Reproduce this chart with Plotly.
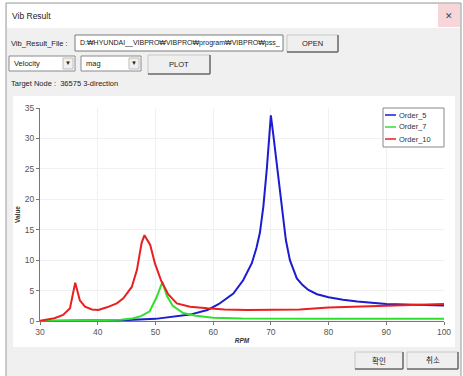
import plotly.graph_objects as go

# ---------------- data ----------------
rpm_o5 = [30, 35, 40, 45, 50, 53, 56, 59, 61, 63.5, 65.2, 66.7, 67.5, 68.1, 68.7, 69.3,
          69.7, 70.0, 70.4, 71.3, 71.9, 72.6, 73.3, 74.5, 75.5, 76.5, 78, 80, 82.5, 85,
          90, 95, 100]
val_o5 = [0.0, 0.05, 0.1, 0.15, 0.35, 0.7, 1.05, 1.8, 2.8, 4.5, 6.7, 9.5, 12.0, 14.5, 18.8, 25.0,
          31.0, 33.8, 30.8, 23.7, 18.2, 13.3, 10.0, 7.0, 5.9, 5.1, 4.4, 3.9, 3.5, 3.2,
          2.8, 2.65, 2.55]

rpm_o7 = [30, 35, 40, 44, 46, 47.5, 49, 50.2, 51.2, 52, 53, 54.8, 57, 60, 65, 70, 80, 90, 100]
val_o7 = [0.0, 0.05, 0.1, 0.2, 0.4, 0.8, 1.6, 3.9, 6.4, 4.1, 2.5, 1.3, 0.85, 0.55, 0.42, 0.38,
          0.37, 0.37, 0.37]

rpm_o10 = [30, 32.5, 34, 35.2, 36.1, 36.9, 37.8, 39, 40.1, 41.6, 43.3, 44.4, 45.9, 46.8, 47.6,
           48.1, 49.1, 49.9, 51, 52.2, 53.7, 56, 59, 62, 66, 70, 75, 80, 85, 90, 95, 100]
val_o10 = [0.05, 0.45, 1.0, 2.1, 6.3, 3.4, 2.35, 1.9, 1.8, 2.25, 2.9, 3.7, 5.6, 8.4, 12.8,
           14.1, 12.5, 9.5, 6.6, 4.4, 2.9, 2.35, 2.08, 1.9, 1.8, 1.8, 1.9, 2.2, 2.35, 2.5, 2.65, 2.8]

series_names = ["Order_5", "Order_7", "Order_10"]
series_colors = ["#1c1cd0", "#2fe02f", "#e82020"]

x_ticks = [30, 40, 50, 60, 70, 80, 90, 100]
y_ticks = [0, 5, 10, 15, 20, 25, 30, 35]

# ---------------- layout geometry ----------------
W, H = 463, 376
ML, MR, MT, MB = 40, 19, 108, 55
PW, PH = W - ML - MR, H - MT - MB


def px(x):
    return (x - ML) / PW


def py(y):
    return (H - MB - y) / PH


UI_FONT = "Liberation Sans, Noto Sans CJK KR, sans-serif"

fig = go.Figure()
for xs, ys, name, col in zip([rpm_o5, rpm_o7, rpm_o10], [val_o5, val_o7, val_o10],
                             series_names, series_colors):
    fig.add_trace(go.Scatter(x=xs, y=ys, mode="lines", name=name, showlegend=False,
                             line=dict(color=col, width=2)))

shapes = []
annotations = []


def rect(x0, y0, x1, y1, fill, line=None, lw=1, layer="below"):
    shapes.append(dict(type="rect", xref="paper", yref="paper",
                       x0=px(x0), x1=px(x1), y0=py(y1), y1=py(y0),
                       fillcolor=fill, layer=layer,
                       line=dict(color=line or fill, width=lw if line else 0)))


def hline(x0, x1, y, color, lw=1, layer="below"):
    shapes.append(dict(type="line", xref="paper", yref="paper",
                       x0=px(x0), x1=px(x1), y0=py(y), y1=py(y), layer=layer,
                       line=dict(color=color, width=lw)))


def vline(x, y0, y1, color, lw=1):
    shapes.append(dict(type="line", xref="paper", yref="paper",
                       x0=px(x), x1=px(x), y0=py(y0), y1=py(y1), layer="below",
                       line=dict(color=color, width=lw)))


def text(x, y, s, size=8, color="#222", xanchor="left", family=UI_FONT):
    annotations.append(dict(xref="paper", yref="paper", x=px(x), y=py(y), text=s,
                            showarrow=False, xanchor=xanchor, yanchor="middle",
                            font=dict(size=size, color=color, family=family)))


def button(x0, y0, x1, y1, label):
    rect(x0, y0, x1, y1, "#efefef", "#c8c8c8")
    hline(x0, x1, y1, "#6e6e6e", 1.5)
    vline(x1, y0, y1, "#6e6e6e", 1.5)
    text((x0 + x1) / 2, (y0 + y1) / 2, label, size=7.5, xanchor="center")


def combo(x0, y0, x1, y1, label):
    rect(x0, y0, x1, y1, "#ffffff", "#8a8a8a")
    rect(x1 - 12, y0 + 2, x1 - 2, y1 - 2, "#f0f0f0", "#bdbdbd")
    text(x1 - 7, (y0 + y1) / 2, "▼", size=6, xanchor="center")
    text(x0 + 3, (y0 + y1) / 2, label, size=7.5)


# window
rect(6, 3, 461, 380, "#f0f0f0", "#9a9a9a")
rect(7, 4, 460, 28, "#ffffff")
rect(438, 4, 460, 27, "#f7d6da")
text(10, 16, "Vib Result", size=8.5)
text(449, 16, "✕", size=9, xanchor="center", color="#444")

# row 1
text(9, 43, "Vib_Result_File :", size=7.5)
rect(75, 35, 283, 51, "#ffffff", "#7a7a7a")
text(78, 43, "D:₩HYUNDAI__VIBPRO₩VIBPRO₩program₩VIBPRO₩pss_", size=7)
button(287, 35, 338, 52, "OPEN")

# row 2
combo(9, 56, 75, 71, "Velocity")
combo(81, 56, 141, 71, "mag")
button(148, 55, 210, 74, "PLOT")

text(9, 84, "Target Node :  36575 3-direction", size=7.5)

# chart panel
rect(13, 96, 455, 347, "#ffffff")

# legend (drawn on top of the plot)
rect(383, 108, 444, 147, "#ffffff", "#888888", layer="above")
for i, (name, col) in enumerate(zip(series_names, series_colors)):
    yy = 115 + 12 * i
    hline(385, 396, yy, col, 1.5, layer="above")
    text(397, yy, name, size=7.5, color="#333")

# bottom buttons
button(355, 352, 403, 369, "확인")
button(407, 352, 458, 369, "취소")

fig.update_layout(
    width=W, height=H,
    margin=dict(l=ML, r=MR, t=MT, b=MB, pad=0),
    paper_bgcolor="#ffffff",
    plot_bgcolor="#ffffff",
    shapes=shapes,
    annotations=annotations,
    font=dict(family=UI_FONT, size=8, color="#444"),
    showlegend=False,
)
fig.update_xaxes(range=[30, 100], tickvals=x_ticks, ticktext=[str(v) for v in x_ticks],
                 showline=True, linecolor="#777", linewidth=1, ticks="outside",
                 ticklen=3, tickcolor="#777", showgrid=True, gridcolor="#f1f1f1",
                 zeroline=False, tickfont=dict(size=8.5, color="#555"),
                 title=dict(text="<b><i>RPM</i></b>", font=dict(size=6.5, color="#333"),
                            standoff=2), automargin=False)
fig.update_yaxes(range=[0, 35], tickvals=y_ticks, ticktext=[str(v) for v in y_ticks],
                 showline=True, linecolor="#777", linewidth=1, ticks="outside",
                 ticklen=3, tickcolor="#777", showgrid=True, gridcolor="#f1f1f1",
                 zeroline=False, tickfont=dict(size=8.5, color="#555"),
                 title=dict(text="<b>Value</b>", font=dict(size=6.5, color="#333"),
                            standoff=3), automargin=False)

fig.write_html("out.html")
